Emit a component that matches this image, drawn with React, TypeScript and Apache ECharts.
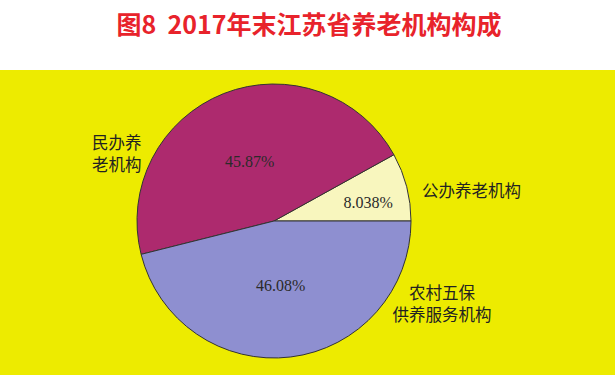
import React, { useEffect, useRef } from "react";
import * as echarts from "echarts";

const titleText = "图8  2017年末江苏省养老机构构成";
const categories = ["公办养老机构", "民办养老机构", "农村五保供养服务机构"];
const values = [8.038, 45.87, 46.08];
const valueLabels = ["8.038%", "45.87%", "46.08%"];
const colors = ["#F8F6BE", "#AD2A6E", "#8E8FD0"];

export default function App() {
  const ref = useRef<HTMLDivElement>(null);
  useEffect(() => {
    if (!ref.current) return;
    const chart = echarts.init(ref.current, null, { renderer: "svg" });
    const labelOffsets = [[25, -1], [2, 7], [-2, -6]];
    chart.setOption({
      animation: false,
      backgroundColor: "#ffffff",
      graphic: [
        { type: "rect", z: -10, shape: { x: 0, y: 70, width: 615, height: 305 }, style: { fill: "#EDEB00" } },
        {
          type: "text", x: 309, y: 23,
          style: { text: titleText, fill: "#E8232B", font: "bold 25px 'Noto Sans CJK SC', sans-serif", textAlign: "center", textVerticalAlign: "middle" },
        },
        {
          type: "text", x: 422, y: 190,
          style: { text: categories[0], fill: "#222", font: "16.5px 'Noto Sans CJK SC', sans-serif", textAlign: "left", textVerticalAlign: "middle" },
        },
        {
          type: "text", x: 92, y: 153,
          style: { text: categories[1].slice(0, 3) + "\n" + categories[1].slice(3), lineHeight: 22, fill: "#222", font: "16.5px 'Noto Sans CJK SC', sans-serif", textAlign: "left", textVerticalAlign: "middle" },
        },
        {
          type: "text", x: 442, y: 303,
          style: { text: categories[2].slice(0, 4) + "\n" + categories[2].slice(4), lineHeight: 22, fill: "#222", font: "16.5px 'Noto Sans CJK SC', sans-serif", textAlign: "center", textVerticalAlign: "middle" },
        },
      ],
      series: [
        {
          type: "pie",
          center: [274, 221],
          radius: 137,
          startAngle: 0,
          clockwise: false,
          avoidLabelOverlap: false,
          itemStyle: { borderColor: "#333", borderWidth: 1 },
          label: {
            show: true,
            position: "inner",
            color: "#2a2a2a",
            fontSize: 16,
            fontFamily: "Liberation Serif",
          },
          labelLine: { show: false },
          emphasis: { disabled: true },
          data: categories.map((name, i) => ({
            name,
            value: values[i],
            itemStyle: { color: colors[i] },
            label: { formatter: valueLabels[i], offset: labelOffsets[i] },
          })),
        },
      ],
    });
    return () => chart.dispose();
  }, []);
  return <div ref={ref} style={{ position: "fixed", left: 0, top: 0, width: 615, height: 375 }} />;
}
